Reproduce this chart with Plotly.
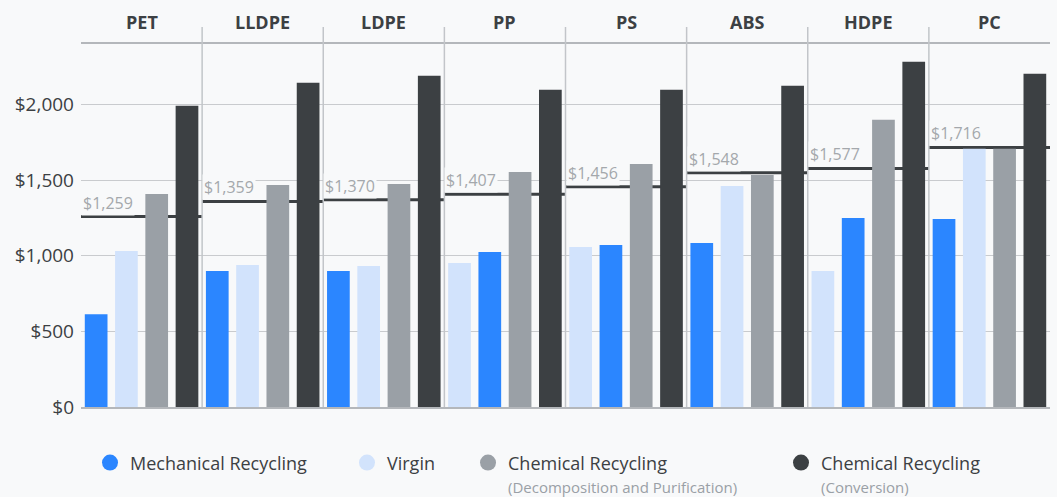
import plotly.graph_objects as go
from plotly.subplots import make_subplots

# Price per tonne by polymer and production route
materials = ["PET", "LLDPE", "LDPE", "PP", "PS", "ABS", "HDPE", "PC"]
mechanical = [614, 899, 899, 1025, 1071, 1084, 1250, 1243]
virgin = [1031, 939, 932, 952, 1058, 1461, 899, 1707]
chem_decomp = [1409, 1468, 1475, 1554, 1607, 1534, 1899, 1707]
chem_conv = [1991, 2143, 2190, 2097, 2097, 2124, 2283, 2203]
benchmark = [1259, 1359, 1370, 1407, 1456, 1548, 1577, 1716]

series_names = [
    "Mechanical Recycling",
    "Virgin",
    "Chemical Recycling<br><span style='font-size:15px;color:#9aa0a6'>(Decomposition and Purification)</span>",
    "Chemical Recycling<br><span style='font-size:15px;color:#9aa0a6'>(Conversion)</span>",
]
series_values = [mechanical, virgin, chem_decomp, chem_conv]
series_colors = ["#2b86ff", "#d2e3fc", "#9aa0a6", "#3c4043"]

BG = "#f8f9fa"
TEXT = "#3c4043"
GRID = "#c9cbce"
FONT = "Open Sans"

n = len(materials)
fig = make_subplots(rows=1, cols=n, shared_yaxes=True,
                    horizontal_spacing=0, subplot_titles=materials)

for i in range(n):
    col = i + 1
    vals = [s[i] for s in series_values]
    # bars inside each panel are ordered from cheapest to most expensive
    order = sorted(range(len(vals)), key=lambda k: vals[k])
    fig.add_trace(go.Bar(
        x=list(range(len(order))),
        y=[vals[k] for k in order],
        marker=dict(color=[series_colors[k] for k in order], line_width=0),
        showlegend=False,
        hoverinfo="y",
    ), row=1, col=col)

    xref = "x" if col == 1 else f"x{col}"
    yref = "y" if col == 1 else f"y{col}"
    fig.add_shape(type="line", xref=f"{xref} domain", x0=0, x1=1,
                  yref=yref, y0=benchmark[i], y1=benchmark[i],
                  line=dict(color=TEXT, width=3), layer="below")
    fig.add_annotation(
        xref=f"{xref} domain", x=0, xanchor="left",
        yref=yref, y=benchmark[i], yanchor="bottom", yshift=1,
        text=f"${benchmark[i]:,}", showarrow=False,
        font=dict(family=FONT, size=16, color="#a4a8ac"),
        bgcolor=BG, borderpad=1,
    )

    fig.update_xaxes(range=[-0.5, 3.5], showticklabels=False, showgrid=False,
                     zeroline=False, showline=True, mirror=True,
                     linecolor="#b4b7bb", linewidth=1.5, fixedrange=True,
                     row=1, col=col)

fig.update_yaxes(range=[0, 2400], dtick=500, tickprefix="$", tickformat=",",
                 showgrid=True, gridcolor=GRID, gridwidth=1, zeroline=False,
                 showline=False, ticks="", ticklabelstandoff=6,
                 tickfont=dict(family=FONT, size=19, color=TEXT))

# panel titles
for ann in fig.layout.annotations[:n]:
    ann.font = dict(family=FONT, size=18, color=TEXT, weight="bold")
    ann.yshift = 8

# panel dividers
for k in range(1, n):
    fig.add_shape(type="line", xref="paper", yref="paper",
                  x0=k / n, x1=k / n, y0=0, y1=1.047,
                  line=dict(color="#c2c5c9", width=1.5), layer="above")

# legend: one circle entry per series, each in its own positioned legend
legend_x = [0.0093, 0.2745, 0.3994, 0.7224]
for j, (name, color) in enumerate(zip(series_names, series_colors)):
    lg = "legend" if j == 0 else f"legend{j + 1}"
    fig.add_trace(go.Scatter(
        x=[None], y=[None], mode="markers", name=name,
        marker=dict(symbol="circle", size=16, color=color),
        legend=lg, showlegend=True,
    ), row=1, col=1)
    fig.update_layout({lg: dict(
        x=legend_x[j], xanchor="left", y=-0.103, yanchor="top",
        orientation="h", bgcolor="rgba(0,0,0,0)", valign="top",
        font=dict(family=FONT, size=18, color=TEXT), itemclick=False,
    )})

fig.update_layout(
    width=1057, height=497,
    margin=dict(l=81, r=7, t=44, b=90, autoexpand=False),
    paper_bgcolor=BG, plot_bgcolor=BG,
    barmode="overlay", bargap=0.25,
    font=dict(family=FONT, color=TEXT),
)

fig.write_html("out.html")
